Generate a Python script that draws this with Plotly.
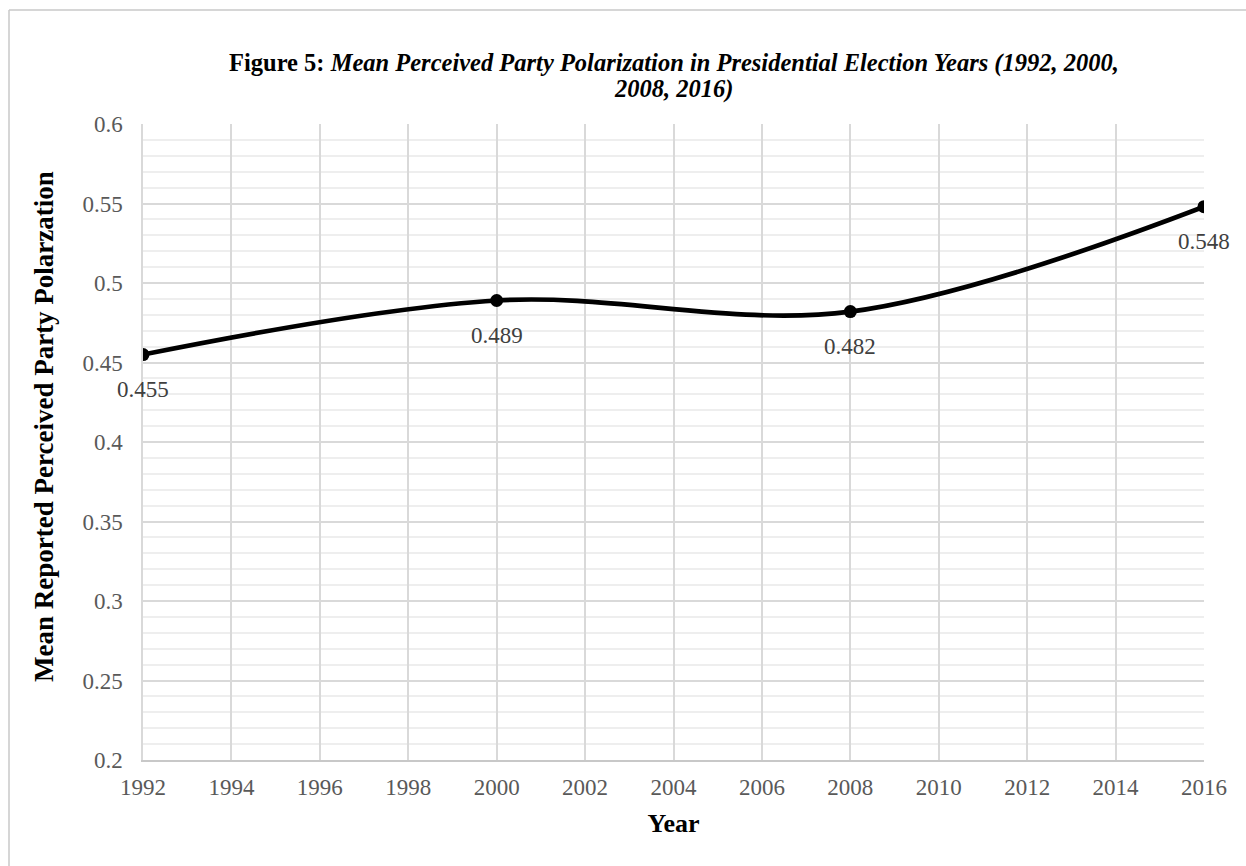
import plotly.graph_objects as go

years = [1992, 2000, 2008, 2016]
polarization = [0.455, 0.489, 0.482, 0.548]
labels = ["0.455", "0.489", "0.482", "0.548"]

title_line1 = "<b>Figure 5:</b> <b><i>Mean Perceived Party Polarization in Presidential Election Years (1992, 2000,</i></b>"
title_line2 = "<b><i>2008, 2016)</i></b>"
x_title = "Year"
y_title = "Mean Reported Perceived Party Polarzation"

FONT = "Liberation Serif, Times New Roman, serif"
TICK_COLOR = "#595959"

fig = go.Figure()
fig.add_trace(go.Scatter(
    x=years, y=polarization, mode="lines+markers",
    line=dict(color="black", width=4.7, shape="spline", smoothing=1),
    marker=dict(color="black", size=13),
    hoverinfo="skip", showlegend=False,
))

for x, y, t in zip(years, polarization, labels):
    fig.add_annotation(x=x, y=y, text=t, showarrow=False, yshift=-35,
                       font=dict(family=FONT, size=23, color="#404040"))

L, R, T, B = 143, 42, 124, 106
W, H = 1246, 866
pw, ph = W - L - R, H - T - B

def px_y(yp):
    return (H - B - yp) / ph

def px_x(xp):
    return (xp - L) / pw

# title lines
fig.add_annotation(xref="paper", yref="paper", x=0.5, y=px_y(63), text=title_line1,
                   showarrow=False, xanchor="center", yanchor="middle",
                   font=dict(family=FONT, size=24.5, color="black"))
fig.add_annotation(xref="paper", yref="paper", x=0.5, y=px_y(89), text=title_line2,
                   showarrow=False, xanchor="center", yanchor="middle",
                   font=dict(family=FONT, size=24.5, color="black"))
# y axis title
fig.add_annotation(xref="paper", yref="paper", x=px_x(44), y=px_y(427),
                   text="<b>" + y_title + "</b>", textangle=-90,
                   showarrow=False, xanchor="center", yanchor="middle",
                   font=dict(family=FONT, size=27, color="black"))

# chart border (light gray) at left x=9, top y=10
bx = px_x(9)
by = px_y(10)
fig.add_shape(type="line", xref="paper", yref="paper", x0=bx, x1=bx, y0=by, y1=-0.5,
              line=dict(color="#c8c8c8", width=1.5))
fig.add_shape(type="line", xref="paper", yref="paper", x0=bx, x1=1.5, y0=by, y1=by,
              line=dict(color="#c8c8c8", width=1.5))

fig.update_layout(
    width=W, height=H,
    margin=dict(l=L, r=R, t=T, b=B, autoexpand=False),
    paper_bgcolor="white", plot_bgcolor="white",
    font=dict(family=FONT),
    xaxis=dict(
        range=[1992, 2016], dtick=2, tick0=1992,
        showgrid=True, gridcolor="#d9d9d9", gridwidth=1.5,
        showline=True, linecolor="#c8c8c8", linewidth=1.5, mirror=False,
        ticks="outside", ticklen=6, tickcolor="rgba(0,0,0,0)",
        tickfont=dict(family=FONT, size=23, color=TICK_COLOR),
        title=dict(text="<b>" + x_title + "</b>", standoff=14,
                   font=dict(family=FONT, size=26, color="black")),
        zeroline=False, automargin=False,
    ),
    yaxis=dict(
        range=[0.2, 0.6], dtick=0.05, tick0=0.2,
        showgrid=True, gridcolor="#d9d9d9", gridwidth=1.5,
        minor=dict(dtick=0.01, showgrid=True, gridcolor="#eeeeee", gridwidth=1.5),
        showline=True, linecolor="#d9d9d9", linewidth=1.5,
        ticks="outside", ticklen=14, tickcolor="rgba(0,0,0,0)",
        tickfont=dict(family=FONT, size=23, color=TICK_COLOR),
        zeroline=False, automargin=False,
    ),
)

fig.write_html("out.html")
